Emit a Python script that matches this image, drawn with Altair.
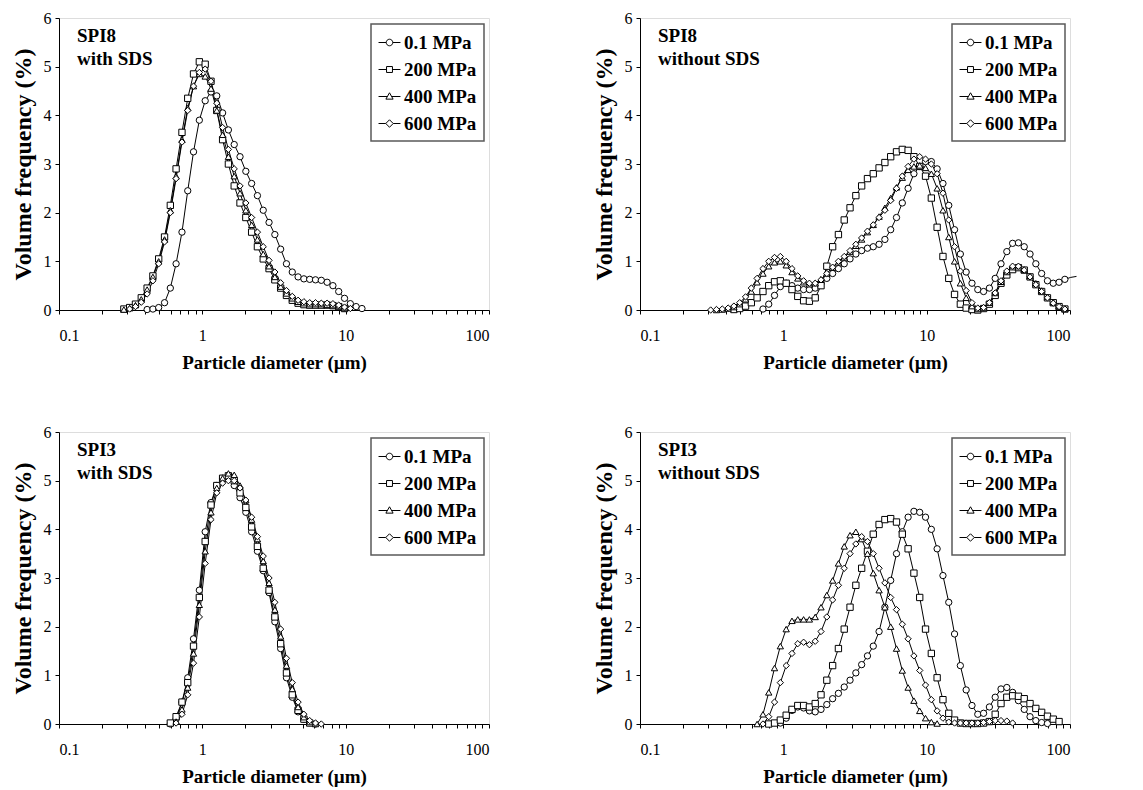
import altair as alt
import pandas as pd

# Channel sizes (µm) of the particle sizer, shared by every series
X_GRID = [0.2835, 0.3112, 0.3416, 0.375, 0.412, 0.452, 0.496, 0.545, 0.598, 0.656,
          0.721, 0.791, 0.868, 0.953, 1.047, 1.149, 1.261, 1.385, 1.520, 1.669,
          1.832, 2.011, 2.208, 2.423, 2.660, 2.920, 3.206, 3.519, 3.863, 4.241,
          4.656, 5.111, 5.611, 6.159, 6.761, 7.422, 8.148, 8.944, 9.819, 10.78,
          11.83, 12.99, 14.26, 15.65, 17.18, 18.86, 20.71, 22.73, 24.95, 27.39,
          30.07, 33.01, 36.24, 39.78, 43.67, 47.94, 52.62, 57.77, 63.41, 69.61,
          76.42, 83.89, 92.09, 101.1, 111.0]

SERIES = ["0.1 MPa", "200 MPa", "400 MPa", "600 MPa"]
X_TICKS = [0.1, 0.2, 0.3, 0.4, 0.5, 0.6, 0.7, 0.8, 0.9,
           1, 2, 3, 4, 5, 6, 7, 8, 9,
           10, 20, 30, 40, 50, 60, 70, 80, 90, 100]
Y_TICKS = [0, 1, 2, 3, 4, 5, 6]

PANEL_TEXT = ["SPI8\nwith SDS", "SPI8\nwithout SDS", "SPI3\nwith SDS", "SPI3\nwithout SDS"]

# (first channel size, volume frequency values)
SPI8_SDS_01 = (0.412, [0.01, 0.02, 0.05, 0.15, 0.45, 0.95, 1.6, 2.45, 3.25, 3.9, 4.3, 4.48, 4.4,
                       4.05, 3.7, 3.4, 3.15, 2.85, 2.6, 2.35, 2.05, 1.8, 1.55, 1.25, 0.95, 0.78,
                       0.68, 0.64, 0.63, 0.62, 0.61, 0.57, 0.5, 0.38, 0.24, 0.13, 0.07, 0.03])
SPI8_SDS_200 = (0.2835, [0.02, 0.05, 0.12, 0.25, 0.45, 0.7, 1.05, 1.5, 2.15, 2.9, 3.65, 4.35, 4.85,
                         5.1, 5.05, 4.7, 4.1, 3.5, 3.0, 2.55, 2.2, 1.9, 1.6, 1.3, 1.05, 0.85, 0.62,
                         0.45, 0.3, 0.2, 0.14, 0.11, 0.1, 0.1, 0.1, 0.1, 0.09, 0.07, 0.03])
SPI8_SDS_400 = (0.2835, [0.01, 0.04, 0.1, 0.22, 0.42, 0.68, 1.0, 1.45, 2.05, 2.75, 3.5, 4.15, 4.6,
                         4.85, 4.8, 4.55, 4.1, 3.6, 3.15, 2.75, 2.4, 2.05, 1.75, 1.45, 1.15, 0.9,
                         0.68, 0.48, 0.34, 0.24, 0.17, 0.14, 0.12, 0.12, 0.12, 0.11, 0.1, 0.08, 0.04])
SPI8_SDS_600 = (0.3112, [0.02, 0.07, 0.16, 0.33, 0.6, 0.95, 1.4, 2.0, 2.7, 3.45, 4.1, 4.6, 4.88,
                         4.95, 4.7, 4.25, 3.75, 3.3, 2.9, 2.55, 2.2, 1.9, 1.6, 1.3, 1.02, 0.78,
                         0.56, 0.4, 0.28, 0.2, 0.17, 0.15, 0.15, 0.14, 0.14, 0.13, 0.1, 0.06, 0.03])

SPI8_NO_01 = (0.721, [0.02, 0.12, 0.3, 0.48, 0.55, 0.5, 0.45, 0.42, 0.42, 0.45, 0.55, 0.65, 0.75,
                      0.85, 0.95, 1.05, 1.15, 1.22, 1.27, 1.3, 1.35, 1.45, 1.65, 1.9, 2.2, 2.5,
                      2.8, 2.95, 3.05, 3.05, 2.9, 2.6, 2.15, 1.65, 1.15, 0.78, 0.55, 0.42, 0.38,
                      0.45, 0.65, 0.95, 1.2, 1.37, 1.38, 1.3, 1.15, 0.95, 0.75, 0.6, 0.55, 0.57,
                      0.63, 0.67, 0.69])
SPI8_NO_200 = (0.452, [0.01, 0.03, 0.08, 0.15, 0.25, 0.38, 0.5, 0.58, 0.6, 0.55, 0.42, 0.28, 0.19,
                       0.18, 0.25, 0.5, 0.9, 1.3, 1.55, 1.85, 2.1, 2.35, 2.55, 2.7, 2.8, 2.92,
                       3.03, 3.15, 3.25, 3.3, 3.28, 3.15, 2.95, 2.75, 2.3, 1.7, 1.1, 0.65, 0.32,
                       0.12, 0.04, 0.01, 0.0, 0.03, 0.12, 0.3, 0.55, 0.72, 0.83, 0.87, 0.82,
                       0.68, 0.52, 0.38, 0.25, 0.15, 0.07, 0.02])
SPI8_NO_400 = (0.3416, [0.0, 0.01, 0.03, 0.06, 0.12, 0.22, 0.38, 0.57, 0.75, 0.9, 0.98, 1.0, 0.92,
                        0.78, 0.65, 0.57, 0.53, 0.55, 0.63, 0.75, 0.87, 0.98, 1.08, 1.2, 1.32,
                        1.45, 1.6, 1.75, 1.92, 2.1, 2.3, 2.52, 2.72, 2.88, 2.95, 2.97, 2.92, 2.8,
                        2.5, 2.05, 1.5, 1.0, 0.55, 0.25, 0.08, 0.02, 0.05, 0.15, 0.35, 0.58,
                        0.78, 0.88, 0.9, 0.83, 0.7, 0.55, 0.4, 0.27, 0.16, 0.08, 0.03])
SPI8_NO_600 = (0.3112, [0.0, 0.01, 0.02, 0.04, 0.08, 0.15, 0.27, 0.45, 0.65, 0.85, 1.0, 1.08, 1.1,
                        1.0, 0.85, 0.7, 0.6, 0.55, 0.55, 0.62, 0.75, 0.88, 1.0, 1.1, 1.22, 1.35,
                        1.48, 1.62, 1.75, 1.9, 2.05, 2.25, 2.5, 2.75, 2.95, 3.1, 3.15, 3.1, 3.0,
                        2.8, 2.4, 1.85, 1.3, 0.8, 0.4, 0.15, 0.04, 0.05, 0.15, 0.35, 0.6, 0.8,
                        0.9, 0.9, 0.82, 0.68, 0.52, 0.38, 0.25, 0.14, 0.07, 0.02])

SPI3_SDS_01 = (0.598, [0.0, 0.1, 0.45, 0.95, 1.75, 2.75, 3.95, 4.55, 4.9, 5.05, 5.05, 4.9, 4.65,
                       4.35, 3.95, 3.55, 3.15, 2.7, 2.1, 1.55, 0.95, 0.55, 0.25, 0.1, 0.03, 0.0])
SPI3_SDS_200 = (0.598, [0.02, 0.15, 0.45, 0.85, 1.6, 2.6, 3.75, 4.5, 4.9, 5.05, 5.1, 5.0, 4.75,
                        4.45, 4.05, 3.65, 3.2, 2.75, 2.2, 1.65, 1.05, 0.6, 0.28, 0.1, 0.02])
SPI3_SDS_400 = (0.656, [0.05, 0.3, 0.75, 1.45, 2.45, 3.55, 4.35, 4.85, 5.05, 5.15, 5.12, 4.9, 4.6,
                        4.2, 3.8, 3.35, 2.9, 2.35, 1.8, 1.2, 0.72, 0.35, 0.14, 0.04, 0.0])
SPI3_SDS_600 = (0.656, [0.02, 0.2, 0.6, 1.25, 2.2, 3.3, 4.2, 4.75, 4.95, 5.0, 5.0, 4.85, 4.6, 4.25,
                        3.85, 3.45, 3.0, 2.5, 1.95, 1.35, 0.85, 0.45, 0.2, 0.07, 0.02, 0.0])

SPI3_NO_01 = (0.953, [0.02, 0.12, 0.28, 0.35, 0.33, 0.27, 0.25, 0.3, 0.4, 0.52, 0.63, 0.76, 0.9,
                      1.05, 1.22, 1.4, 1.6, 1.9, 2.4, 2.95, 3.5, 3.95, 4.25, 4.37, 4.35, 4.25, 4.0,
                      3.6, 3.05, 2.5, 1.85, 1.2, 0.7, 0.38, 0.2, 0.22, 0.35, 0.55, 0.72, 0.75,
                      0.65, 0.48, 0.3, 0.15, 0.07, 0.03, 0.01])
SPI3_NO_200 = (0.791, [0.0, 0.02, 0.08, 0.18, 0.3, 0.38, 0.38, 0.35, 0.42, 0.6, 0.9, 1.2, 1.55,
                       1.95, 2.4, 2.85, 3.2, 3.55, 3.9, 4.1, 4.2, 4.22, 4.15, 3.9, 3.6, 3.1, 2.6,
                       1.95, 1.45, 0.95, 0.5, 0.22, 0.08, 0.02, 0.01, 0.01, 0.01, 0.02, 0.05, 0.2,
                       0.42, 0.55, 0.58, 0.57, 0.52, 0.42, 0.32, 0.24, 0.16, 0.1, 0.05])
SPI3_NO_400 = (0.656, [0.0, 0.2, 0.65, 1.15, 1.6, 1.95, 2.12, 2.15, 2.15, 2.15, 2.2, 2.4, 2.65,
                       2.95, 3.3, 3.65, 3.88, 3.95, 3.8, 3.5, 3.1, 2.75, 2.4, 2.0, 1.55, 1.1, 0.75,
                       0.48, 0.27, 0.12, 0.04, 0.01])
SPI3_NO_600 = (0.721, [0.0, 0.15, 0.45, 0.85, 1.2, 1.45, 1.65, 1.68, 1.63, 1.7, 1.9, 2.2, 2.55,
                       2.85, 3.2, 3.5, 3.7, 3.85, 3.75, 3.5, 3.2, 2.9, 2.6, 2.35, 2.05, 1.75, 1.4,
                       1.1, 0.8, 0.5, 0.27, 0.12, 0.04, 0.02, 0.02, 0.02, 0.02, 0.02, 0.03, 0.05,
                       0.07, 0.07, 0.06, 0.02])

PANEL_DATA = [
    [SPI8_SDS_01, SPI8_SDS_200, SPI8_SDS_400, SPI8_SDS_600],
    [SPI8_NO_01, SPI8_NO_200, SPI8_NO_400, SPI8_NO_600],
    [SPI3_SDS_01, SPI3_SDS_200, SPI3_SDS_400, SPI3_SDS_600],
    [SPI3_NO_01, SPI3_NO_200, SPI3_NO_400, SPI3_NO_600],
]

rows = []
for p, series_list in enumerate(PANEL_DATA):
    for s, (start, vals) in zip(SERIES, series_list):
        k = X_GRID.index(start)
        for j, v in enumerate(vals):
            rows.append({"panel": p, "series": s, "x": X_GRID[k + j], "y": v})
df = pd.DataFrame(rows)

SHAPES = ["circle", "square", "triangle-up", "diamond"]
LEGEND_SHAPES = [
    "M-1,0L-0.3,0M0.3,0L1,0M-0.3,0A0.3,0.3,0,1,0,0.3,0A0.3,0.3,0,1,0,-0.3,0Z",
    "M-1,0L-0.27,0M0.27,0L1,0M-0.27,-0.27L0.27,-0.27L0.27,0.27L-0.27,0.27Z",
    "M-1,0L-0.2,0M0.2,0L1,0M0,-0.34L0.33,0.24L-0.33,0.24Z",
    "M-1,0L-0.34,0M0.34,0L1,0M0,-0.34L0.34,0L0,0.34L-0.34,0Z",
]

LABEL_EXPR = ("datum.value == 0.1 ? '0.1' : datum.value == 1 ? '1' : "
              "datum.value == 10 ? '10' : datum.value == 100 ? '100' : ''")


def make_panel(p):
    d = df[df["panel"] == p]
    base = alt.Chart(d)
    x = alt.X("x:Q", scale=alt.Scale(type="log", domain=[0.1, 100], nice=False),
              axis=alt.Axis(values=X_TICKS, labelExpr=LABEL_EXPR, labelOverlap=False,
                            title="Particle diameter (µm)"))
    y = alt.Y("y:Q", scale=alt.Scale(domain=[0, 6], nice=False),
              axis=alt.Axis(values=Y_TICKS, title="Volume frequency (%)"))
    line = base.mark_line(color="black", strokeWidth=1, clip=False).encode(
        x=x, y=y, detail="series:N", order="x:Q")
    pts = base.transform_filter("datum.x <= 100").mark_point(
        filled=True, fill="white", stroke="black", strokeWidth=1, size=40, opacity=1
    ).encode(x=x, y=y,
             shape=alt.Shape("series:N", scale=alt.Scale(domain=SERIES, range=SHAPES),
                             legend=None))
    leg = base.transform_filter("false").mark_point(
        filled=False, color="black", strokeWidth=1, opacity=1
    ).encode(x=x, y=y,
             shape=alt.Shape("series:N", scale=alt.Scale(domain=SERIES, range=LEGEND_SHAPES),
                             legend=alt.Legend(title=None, orient="none", legendX=312,
                                               legendY=6)))
    txt = alt.Chart(pd.DataFrame({"t": [PANEL_TEXT[p]]})).mark_text(
        align="left", baseline="top", fontSize=19, fontWeight="bold",
        font="Liberation Serif", lineHeight=23, lineBreak="\n", color="black"
    ).encode(x=alt.value(18), y=alt.value(9), text="t:N")
    return alt.layer(line, pts, leg, txt).resolve_scale(shape="independent").properties(
        width=430, height=292)


row1 = alt.hconcat(make_panel(0), make_panel(1), spacing=101).resolve_scale(
    shape="independent").resolve_legend(shape="independent")
row2 = alt.hconcat(make_panel(2), make_panel(3), spacing=101).resolve_scale(
    shape="independent").resolve_legend(shape="independent")

chart = alt.vconcat(row1, row2, spacing=50).resolve_scale(
    shape="independent").resolve_legend(shape="independent").properties(
    padding={"left": 10, "top": 9, "right": 0, "bottom": 0},
    background="white",
).configure_view(stroke=None).configure(font="Liberation Serif").configure_axis(
    labelFont="Liberation Serif", labelFontSize=16, labelColor="black",
    titleFont="Liberation Serif", titleFontWeight="bold", titleColor="black",
    domainColor="black", tickColor="black", tickSize=4, grid=False,
    domainWidth=1, tickWidth=1,
).configure_axisX(labelPadding=13, titlePadding=10, titleFontSize=19).configure_axisY(
    labelPadding=4, titlePadding=8, titleFontSize=24
).configure_legend(
    strokeColor="#5a5a5a", strokeWidth=1.5, fillColor="white", padding=7, rowPadding=5,
    labelFont="Liberation Serif", labelFontSize=19, labelFontWeight="bold",
    labelColor="black", symbolSize=480, symbolStrokeWidth=1, symbolFillColor="white",
    symbolStrokeColor="black", labelOffset=3,
)

chart.save("out.html", embed_options={"renderer": "svg", "actions": False})
